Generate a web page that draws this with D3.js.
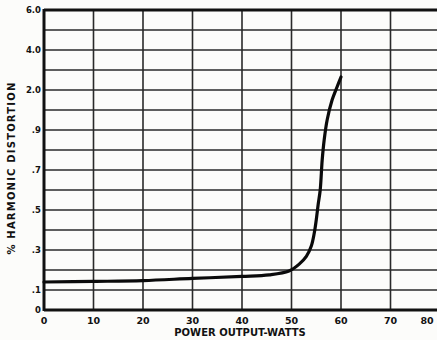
<!DOCTYPE html>
<html><head><meta charset="utf-8">
<script src="https://cdn.jsdelivr.net/npm/d3@7"></script>
<style>
html,body{margin:0;padding:0;background:#fcfcfa;}
svg{display:block;}
text{font-family:"DejaVu Sans",sans-serif;font-weight:bold;fill:#111;}
</style></head>
<body>
<script>
// Data
const watts = [0, 10, 20, 30, 40, 45.5, 49.5, 51.5, 53, 54, 54.6, 55, 55.4, 55.8, 56.2, 56.6, 57.2, 58.2, 59.2, 60];
const distortion = [0.14, 0.143, 0.147, 0.158, 0.168, 0.176, 0.195, 0.228, 0.268, 0.32, 0.385, 0.45, 0.53, 0.6, 0.75, 0.85, 0.95, 1.5, 2.15, 2.65];
const xTicks = [0, 10, 20, 30, 40, 50, 60, 70, 80];
const yGrid = [0, 0.1, 0.2, 0.3, 0.4, 0.5, 0.6, 0.7, 0.8, 0.9, 1.0, 2.0, 3.0, 4.0, 5.0, 6.0];
const yLabelValues = [0, 0.1, 0.3, 0.5, 0.7, 0.9, 2.0, 4.0, 6.0];
const yLabelText = ["0", ".1", ".3", ".5", ".7", ".9", "2.0", "4.0", "6.0"];

const W = 437, H = 340;
const svg = d3.select("body").append("svg").attr("width", W).attr("height", H);

const x = d3.scaleLinear().domain([0, 80]).range([44, 440]);
const yRange = yGrid.map((d, i) => 310 - i * 20);
const y = d3.scaleLinear().domain(yGrid).range(yRange);

// grid
const g = svg.append("g");
g.selectAll("line.h").data(yGrid).join("line")
  .attr("x1", x(0)).attr("x2", x(80))
  .attr("y1", d => y(d)).attr("y2", d => y(d))
  .attr("stroke", "#2a2a2a").attr("stroke-width", 1.6);
g.selectAll("line.v").data(xTicks).join("line")
  .attr("x1", d => x(d)).attr("x2", d => x(d))
  .attr("y1", y(6)).attr("y2", y(0))
  .attr("stroke", "#2a2a2a").attr("stroke-width", 1.6);

// frame
svg.append("line").attr("x1", x(0)).attr("x2", x(0)).attr("y1", y(6) - 1).attr("y2", y(0) + 1)
  .attr("stroke", "#111").attr("stroke-width", 3);
svg.append("line").attr("x1", x(0)).attr("x2", x(80)).attr("y1", y(6)).attr("y2", y(6))
  .attr("stroke", "#111").attr("stroke-width", 3);
svg.append("line").attr("x1", x(0)).attr("x2", x(80)).attr("y1", y(0)).attr("y2", y(0))
  .attr("stroke", "#111").attr("stroke-width", 3);

// curve
const pts = watts.map((w, i) => [w, distortion[i]]);
svg.append("path").datum(pts)
  .attr("fill", "none").attr("stroke", "#0a0a0a").attr("stroke-width", 3.2)
  .attr("stroke-linecap", "round")
  .attr("d", d3.line().x(d => x(d[0])).y(d => y(d[1])).curve(d3.curveCatmullRom.alpha(0.5)));

// y labels
svg.selectAll("text.yl").data(yLabelValues).join("text")
  .attr("x", 41).attr("y", d => y(d) + 3)
  .attr("text-anchor", "end").attr("font-size", 8.5)
  .text((d, i) => yLabelText[i]);

// x labels
svg.selectAll("text.xl").data(xTicks).join("text")
  .attr("x", d => Math.min(x(d), 427)).attr("y", 324)
  .attr("text-anchor", "middle").attr("font-size", 9.5)
  .text(d => d);

// titles
svg.append("text").attr("x", 240).attr("y", 336).attr("text-anchor", "middle")
  .attr("font-size", 10).text("POWER OUTPUT-WATTS");
svg.append("text").attr("transform", "translate(15,168) rotate(-90)")
  .attr("text-anchor", "middle").attr("font-size", 10).attr("letter-spacing", 1.2)
  .text("% HARMONIC DISTORTION");
</script>
</body></html>
